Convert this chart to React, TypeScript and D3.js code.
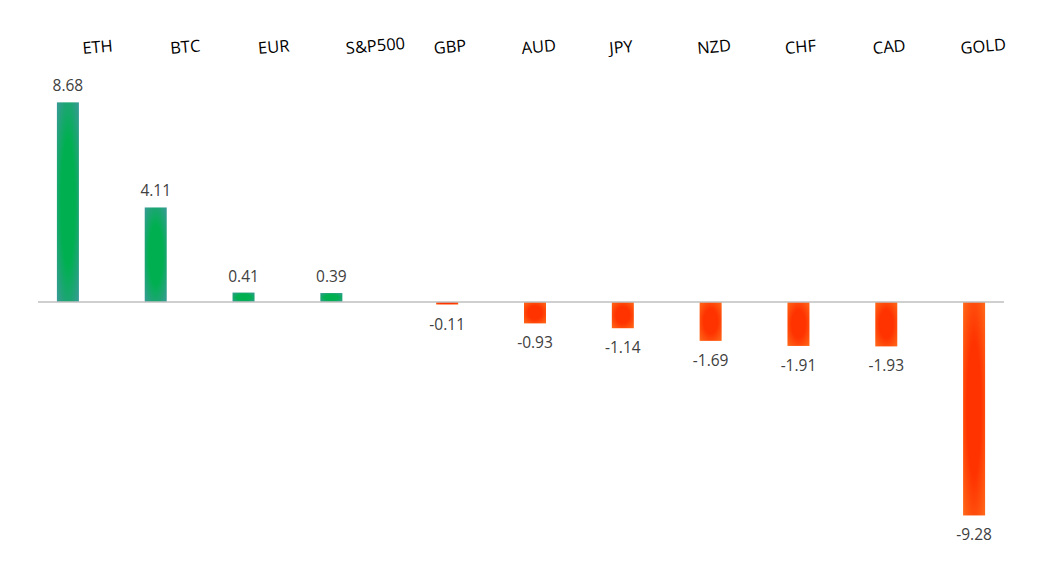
import { useEffect, useRef } from 'react';
import * as d3 from 'd3';

// weekly performance, % change
const categories = ['ETH', 'BTC', 'EUR', 'S&P500', 'GBP', 'AUD', 'JPY', 'NZD', 'CHF', 'CAD', 'GOLD'];
const changes = [8.68, 4.11, 0.41, 0.39, -0.11, -0.93, -1.14, -1.69, -1.91, -1.93, -9.28];
const seriesKeys = ['gain', 'loss'];

const W = 1049;
const H = 575;

const App = () => {
  const svgRef = useRef<SVGSVGElement>(null);

  useEffect(() => {
    if (!svgRef.current) return;
    const svg = d3.select(svgRef.current);
    svg.selectAll('*').remove();

    const defs = svg.append('defs');
    const grad = (id: string, center: string, edge: string) => {
      const g = defs.append('radialGradient').attr('id', id)
        .attr('cx', '50%').attr('cy', '50%').attr('r', '70%');
      g.append('stop').attr('offset', '0%').attr('stop-color', center);
      g.append('stop').attr('offset', '45%').attr('stop-color', center);
      g.append('stop').attr('offset', '100%').attr('stop-color', edge);
    };
    grad('gainFill', '#00B050', '#3A9A98');
    grad('lossFill', '#FF3300', '#FF6A1A');

    const x = d3.scaleBand<string>().domain(categories).range([38, 1004]);
    const x1 = d3.scaleBand<string>().domain(seriesKeys)
      .range([0, x.bandwidth()])
      .paddingInner(6 / 28)
      .paddingOuter(0.675);
    const y = d3.scaleLinear().domain([-10, 10]).range([532, 72]);

    const rows = categories.map((c, i) => ({
      cat: c,
      value: changes[i],
      key: changes[i] >= 0 ? 'gain' : 'loss',
    }));

    // bars
    svg.append('g').selectAll('rect')
      .data(rows)
      .enter()
      .append('rect')
      .attr('x', d => (x(d.cat) as number) + (x1(d.key) as number))
      .attr('width', x1.bandwidth())
      .attr('y', d => y(Math.max(0, d.value)))
      .attr('height', d => Math.abs(y(d.value) - y(0)))
      .attr('fill', d => d.key === 'gain' ? 'url(#gainFill)' : 'url(#lossFill)');

    // zero line
    svg.append('line')
      .attr('x1', 38).attr('x2', 1004)
      .attr('y1', y(0)).attr('y2', y(0))
      .attr('stroke', '#BFBFBF')
      .attr('stroke-width', 1.5);

    // value labels
    svg.append('g').selectAll('text')
      .data(rows)
      .enter()
      .append('text')
      .attr('x', d => (x(d.cat) as number) + (x1(d.key) as number) + x1.bandwidth() / 2)
      .attr('y', d => d.value >= 0 ? y(d.value) - 17 : y(d.value) + 19)
      .attr('text-anchor', 'middle')
      .attr('dominant-baseline', 'central')
      .attr('font-family', '"Open Sans", sans-serif')
      .attr('font-size', '15.5px')
      .attr('fill', '#404040')
      .text(d => d.value.toFixed(2));

    // category labels, slightly tilted
    svg.append('g').selectAll('text')
      .data(categories)
      .enter()
      .append('text')
      .attr('transform', d => `translate(${(x(d) as number) + x.bandwidth() / 2 + 1}, 54) rotate(-5)`)
      .attr('font-family', '"Open Sans", sans-serif')
      .attr('font-size', '16.5px')
      .attr('fill', '#000')
      .text(d => d);
  }, []);

  return (
    <svg
      ref={svgRef}
      width={W}
      height={H}
      style={{ position: 'absolute', left: 0, top: 0, background: '#fff' }}
    />
  );
};

export default App;
